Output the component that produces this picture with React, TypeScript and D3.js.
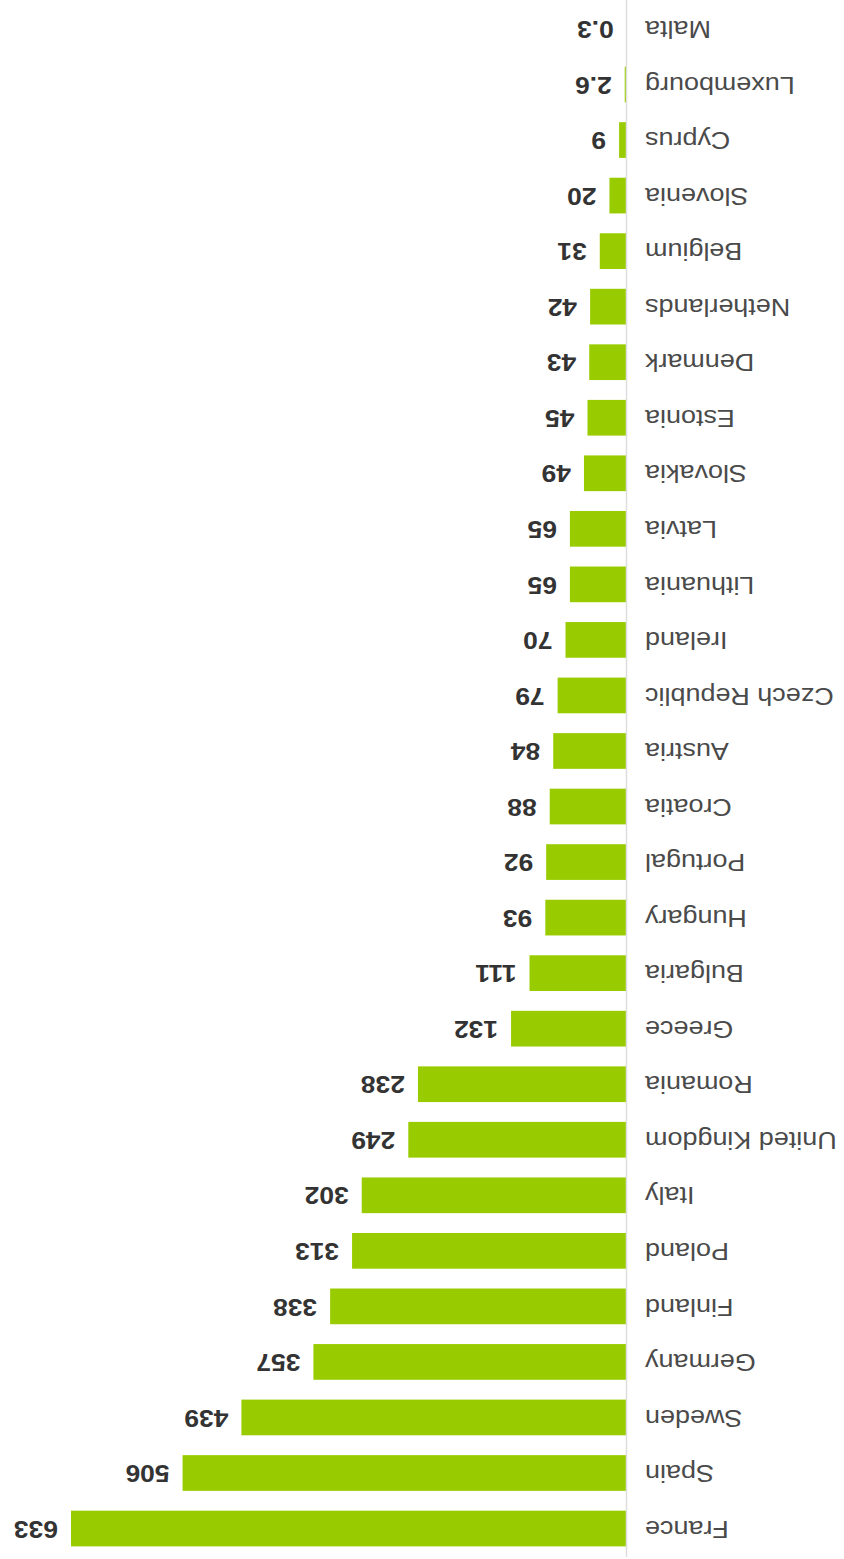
import React, { useEffect, useRef } from "react"
import * as d3 from "d3"

// order as read top-to-bottom once the picture is turned upright
const countries = [
    "France", "Spain", "Sweden", "Germany", "Finland", "Poland", "Italy",
    "United Kingdom", "Romania", "Greece", "Bulgaria", "Hungary", "Portugal",
    "Croatia", "Austria", "Czech Republic", "Ireland", "Lithuania", "Latvia",
    "Slovakia", "Estonia", "Denmark", "Netherlands", "Belgium", "Slovenia",
    "Cyprus", "Luxembourg", "Malta"
]
const values = [
    633, 506, 439, 357, 338, 313, 302,
    249, 238, 132, 111, 93, 92,
    88, 84, 79, 70, 65, 65,
    49, 45, 43, 42, 31, 20,
    9, 2.6, 0.3
]

const width = 844
const height = 1559
const labelStretch = 1.1
const valueStretch = 1.15

export default function App() {
    const ref = useRef<SVGSVGElement>(null)

    useEffect(() => {
        const svg = d3.select(ref.current)
        svg.selectAll("*").remove()

        const data = countries.map((c, i) => ({ name: c, value: values[i] }))
        const left = 217

        const y = d3.scaleBand()
            .domain(countries)
            .range([1.5, height])
            .paddingInner(0.357)
            .paddingOuter(0.2)
        const x = d3.scaleLinear()
            .domain([0, 633])
            .range([left, 773])

        // the whole chart is turned upside down
        const g = svg.append("g")
            .attr("transform", "rotate(180 " + width / 2 + " " + height / 2 + ")")

        g.append("g")
            .selectAll("rect")
            .data(data)
            .enter()
            .append("rect")
            .attr("x", left)
            .attr("y", d => y(d.name))
            .attr("width", d => x(d.value) - left)
            .attr("height", y.bandwidth())
            .attr("fill", "#99cc00")

        const axis = d3.axisLeft(y).tickSize(0).tickSizeOuter(0).tickPadding(0)
        const ax = g.append("g")
            .attr("transform", "translate(" + left + ",0)")
            .call(axis)
        ax.select(".domain").attr("stroke", "#dddddd").attr("stroke-width", 1.5)
        ax.selectAll(".tick text")
            .attr("x", -18 / labelStretch)
            .attr("dy", "0.32em")
            .attr("transform", "scale(" + labelStretch + ",1)")
            .attr("font-family", "'Liberation Sans', Arial, sans-serif")
            .attr("font-size", 24.5)
            .attr("fill", "#4a4a4a")

        g.append("g")
            .selectAll("text")
            .data(data)
            .enter()
            .append("text")
            .attr("transform", d => "translate(" + (x(d.value) + 13) + "," + (y(d.name) + y.bandwidth() / 2) + ") scale(" + valueStretch + ",1)")
            .attr("dy", "0.34em")
            .attr("font-family", "'Liberation Sans', Arial, sans-serif")
            .attr("font-weight", "bold")
            .attr("font-size", 23)
            .attr("fill", "#333333")
            .text(d => String(d.value))
    }, [])

    return (
        <svg ref={ref} width={width} height={height}
            style={{ position: "absolute", left: 0, top: 0, background: "#fff" }}>
        </svg>
    )
}
